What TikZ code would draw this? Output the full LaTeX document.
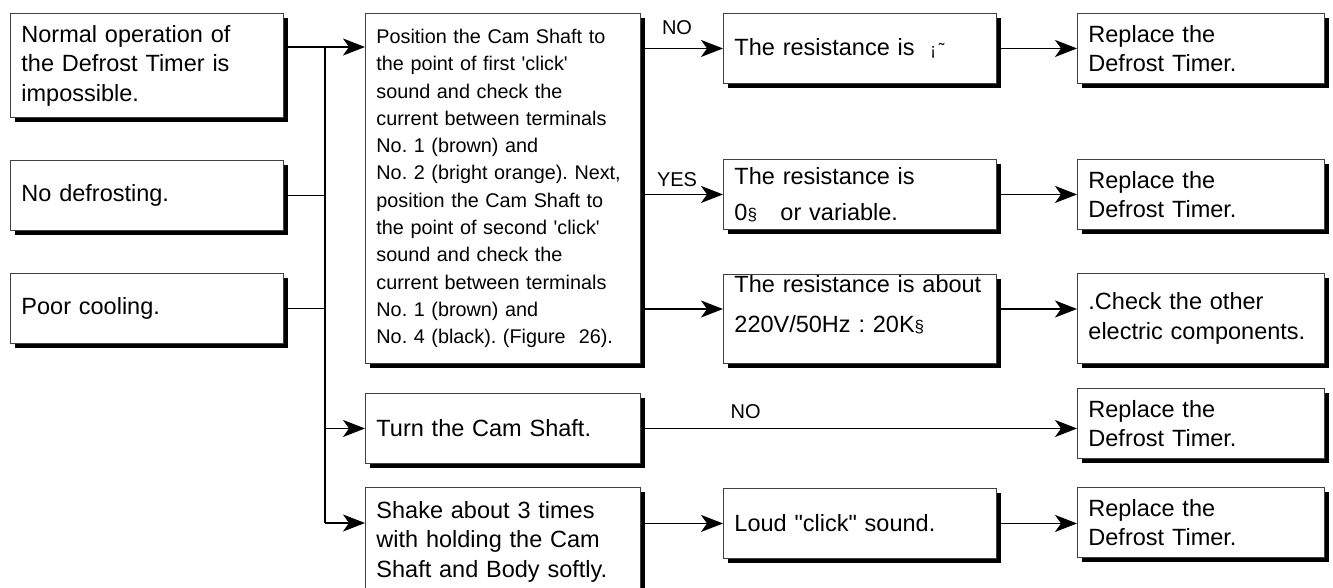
\documentclass[tikz,border=0pt]{standalone}
\usepackage{fontspec}
\setmainfont{Liberation Sans}[Ligatures=TeXOff]
\usetikzlibrary{arrows.meta, positioning, shadows}
\frenchspacing

\begin{document}
\begin{tikzpicture}[x=1pt, y=-1pt,
      box/.style={rectangle, draw=black!75, line width=0.9pt, fill=white, anchor=north west, align=left,
        inner xsep=11pt, inner ysep=0pt, font=\fontsize{23.5}{29.5}\selectfont,
        drop shadow={shadow xshift=5pt, shadow yshift=-5pt, fill=black, opacity=1}},
      cause/.style={box, text width=251pt, minimum height=70pt},
      test/.style={box, text width=253pt, minimum height=70pt},
      result/.style={box, text width=251pt, minimum height=70pt},
      fix/.style={box, text width=225pt, minimum height=70pt},
      arr/.style={-{Stealth[length=22pt, width=17pt, inset=6pt]}, line width=1.6pt},
      link/.style={line width=1.6pt},
      yesno/.style={font=\fontsize{20}{24}\selectfont, inner sep=0pt}]
      \useasboundingbox (0,0) rectangle (1333,587);

      % Symptoms
      \node[cause, minimum height=104pt] (norm) at (10,13) {Normal operation of\\the Defrost Timer is\\impossible.};
      \node[cause] (nodef) at (10,160) {No defrosting.};
      \node[cause] (poor) at (10,273) {Poor cooling.};

      % Checks
      \node[test, minimum height=350pt, font=\fontsize{19.8}{27.3}\selectfont] (cam) at (365,13)
        {Position the Cam Shaft to\\the point of first 'click'\\sound and check the\\current between terminals\\No. 1 (brown) and\\No. 2 (bright orange). Next,\\position the Cam Shaft to\\the point of second 'click'\\sound and check the\\current between terminals\\No. 1 (brown) and\\No. 4 (black). (Figure\ \ 26).};
      \node[test] (turn) at (365,393) {Turn the Cam Shaft.};
      \node[test, minimum height=108pt] (shake) at (365,487) {Shake about 3 times\\with holding the Cam\\Shaft and Body softly.};

      % Results
      \node[result] (resA) at (723,13) {The resistance is\ \ {\fontsize{17}{17}\selectfont ¡\,˜}};
      \node[result] (resB) at (723,159) {The resistance is\\[7pt]0{\fontsize{17}{17}\selectfont §}\ \ \ or variable.};
      \node[result, minimum height=89pt] (resC) at (723,274) {The resistance is about\\[10pt]220V/50Hz : 20K{\fontsize{17}{17}\selectfont §}\\\mbox{}};
      \node[result] (loud) at (723,488) {Loud "click" sound.};

      % Actions
      \node[fix] (repA) at (1077,13) {Replace the\\Defrost Timer.};
      \node[fix] (repB) at (1077,159) {Replace the\\Defrost Timer.};
      \node[fix, minimum height=90pt] (other) at (1077,273) {.Check the other\\electric components.};
      \node[fix] (repC) at (1077,388) {Replace the\\Defrost Timer.};
      \node[fix] (repD) at (1077,487) {Replace the\\Defrost Timer.};

      % Bus on the left
      \coordinate (hub) at (325,47);
      \coordinate (hubend) at (325,523);
      \draw[link] (norm.east |- hub) -- (hub);
      \draw[link] (nodef.east) -- (nodef.east -| hub);
      \draw[link] (poor.east) -- (poor.east -| hub);
      \draw[link] (hub) -- (hubend);
      \draw[arr] (hub) -- (hub -| cam.west);
      \draw[arr] (hub |- turn.west) -- (turn.west);
      \draw[arr] (hubend) -- (hubend -| shake.west);

      % Arrows
      \coordinate (cin) at (723,309);
      \draw[arr] (cam.east |- resA.west) -- (resA.west) node[yesno, pos=0.44, above=13pt] (no1) {NO};
      \draw[arr] (cam.east |- resB.west) -- (resB.west) node[yesno, pos=0.44, above=7pt] (yes1) {YES};
      \draw[arr] (cam.east |- cin) -- (cin);
      \draw[arr] (resA.east) -- (repA.west);
      \draw[arr] (resB.east) -- (repB.west);
      \draw[arr] (resC.east |- cin) -- (other.west |- cin);
      \draw[arr] (turn.east) -- (turn.east -| repC.west) node[yesno, pos=0.24, above=9pt] (no2) {NO};
      \draw[arr] (shake.east |- loud.west) -- (loud.west);
      \draw[arr] (loud.east) -- (loud.east -| repD.west);
\end{tikzpicture}
\end{document}
